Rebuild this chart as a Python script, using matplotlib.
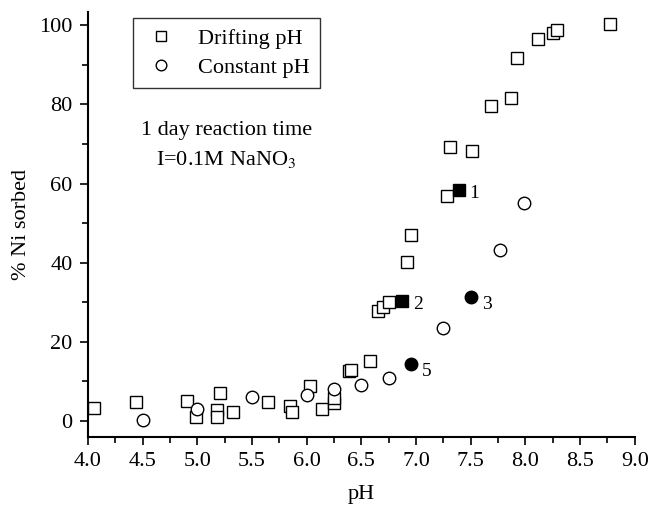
import matplotlib
matplotlib.use("Agg")
import matplotlib.pyplot as plt
from matplotlib.ticker import MultipleLocator

plt.rcParams['font.family'] = ['Liberation Serif', 'DejaVu Serif']
plt.rcParams['mathtext.fontset'] = 'stix'

# drifting pH (open squares)
drift_ph = [4.06, 4.44, 4.91, 4.99, 5.18, 5.18, 5.21, 5.33, 5.65, 5.85, 5.87,
            6.03, 6.14, 6.25, 6.25, 6.39, 6.41, 6.58, 6.65, 6.70, 6.75, 6.92,
            6.95, 7.28, 7.31, 7.51, 7.69, 7.87, 7.92, 8.12, 8.25, 8.29, 8.77]
drift_ni = [3.4, 4.9, 5.0, 1.1, 2.9, 1.1, 7.2, 2.4, 4.7, 3.8, 2.4,
            8.8, 3.0, 4.5, 5.8, 12.7, 12.9, 15.2, 27.9, 28.9, 30.0, 40.2,
            47.0, 56.8, 69.3, 68.3, 79.5, 81.5, 91.8, 96.6, 98.1, 98.7, 100.3]

# constant pH (open circles)
const_ph = [4.50, 5.00, 5.50, 6.00, 6.25, 6.50, 6.75, 7.25, 7.77, 7.99]
const_ni = [0.3, 3.1, 6.1, 6.6, 8.2, 9.1, 10.8, 23.6, 43.2, 55.2]

# highlighted samples (filled)
fsq_ph = [7.39, 6.87]
fsq_ni = [58.3, 30.3]
fsq_lab = ["1", "2"]
fci_ph = [7.50, 6.95]
fci_ni = [31.4, 14.4]
fci_lab = ["3", "5"]

fig = plt.figure(figsize=(6.51, 5.08), dpi=100)
ax = fig.add_axes([0.135, 0.140, 0.840, 0.836])

ax.plot(drift_ph, drift_ni, ls='none', marker='s', ms=8, mfc='white',
        mec='black', mew=1.0, label='Drifting pH')
ax.plot(const_ph, const_ni, ls='none', marker='o', ms=9, mfc='white',
        mec='black', mew=1.0, label='Constant pH')
ax.plot(fsq_ph, fsq_ni, ls='none', marker='s', ms=8, mfc='black', mec='black')
ax.plot(fci_ph, fci_ni, ls='none', marker='o', ms=9, mfc='black', mec='black')

for x, y, t in zip(fsq_ph, fsq_ni, fsq_lab):
    ax.text(x + 0.1, y - 0.8, t, fontsize=14, va='center', ha='left')
for x, y, t in zip(fci_ph, fci_ni, fci_lab):
    ax.text(x + 0.1, y - 2.0, t, fontsize=14, va='center', ha='left')

ax.set_xlim(4.0, 9.0)
ax.set_ylim(-4, 103.3)
ax.xaxis.set_major_locator(MultipleLocator(0.5))
ax.xaxis.set_minor_locator(MultipleLocator(0.25))
ax.yaxis.set_major_locator(MultipleLocator(20))
ax.yaxis.set_minor_locator(MultipleLocator(10))
ax.xaxis.set_major_formatter(plt.FormatStrFormatter('%.1f'))
ax.tick_params(which='major', direction='out', length=6, width=1.2,
               labelsize=16, pad=5)
ax.tick_params(which='minor', direction='out', length=4, width=1.2)

for s in ['top', 'right']:
    ax.spines[s].set_visible(False)
for s in ['left', 'bottom']:
    ax.spines[s].set_linewidth(1.5)

ax.set_xlabel('pH', fontsize=16, labelpad=10)
ax.set_ylabel('% Ni sorbed', fontsize=16, labelpad=6)

leg = ax.legend(loc='upper left', bbox_to_anchor=(0.082, 0.986), fontsize=16,
                frameon=True, fancybox=False, edgecolor='black',
                handletextpad=0.9, borderpad=0.45, labelspacing=0.4,
                handlelength=1.6, markerscale=0.85, borderaxespad=0)
leg.get_frame().set_linewidth(1.0)

ax.text(0.253, 0.722, '1 day reaction time', transform=ax.transAxes,
        fontsize=16, ha='center', va='center')
ax.text(0.253, 0.652, r'I=0.1M NaNO$_3$', transform=ax.transAxes,
        fontsize=16, ha='center', va='center')

fig.savefig('out.png', dpi=100)
